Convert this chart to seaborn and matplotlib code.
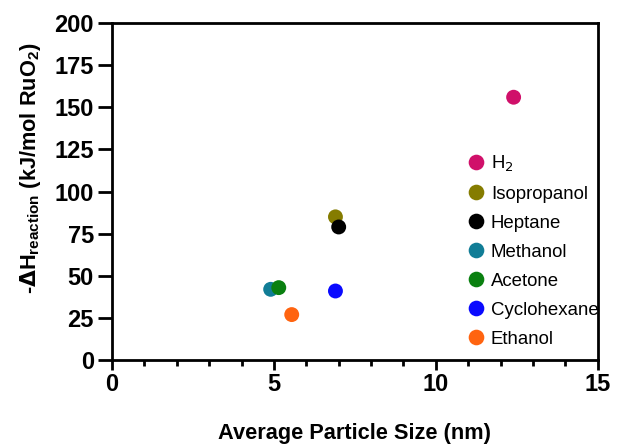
import matplotlib
matplotlib.use("Agg")
import matplotlib.pyplot as plt
from matplotlib.ticker import MultipleLocator
import seaborn as sns
import pandas as pd

# Particle size (nm) and reaction enthalpy (kJ/mol RuO2) per reductant
reductants = ["H$_2$", "Isopropanol", "Heptane", "Methanol", "Acetone", "Cyclohexane", "Ethanol"]
particle_size = [12.4, 6.9, 7.0, 4.9, 5.15, 6.9, 5.55]
delta_h = [156, 85, 79, 42, 43, 41, 27]
colors = ["#d0106a", "#857c00", "#000000", "#117d96", "#0a8010", "#0a0aff", "#ff6410"]

df = pd.DataFrame({"reductant": reductants, "size": particle_size, "dh": delta_h})

sns.set_theme(style="ticks")
plt.rcParams["font.family"] = ["Liberation Sans", "DejaVu Sans"]
plt.rcParams["text.color"] = "black"
plt.rcParams["axes.labelcolor"] = "black"
plt.rcParams["xtick.color"] = "black"
plt.rcParams["ytick.color"] = "black"

fig = plt.figure(figsize=(6.36, 4.44), dpi=100)
ax = fig.add_axes([0.176, 0.189, 0.764, 0.759])

sns.scatterplot(data=df, x="size", y="dh", hue="reductant", palette=colors,
                s=115, edgecolor="none", ax=ax, zorder=3)

ax.set_xlim(0, 15)
ax.set_ylim(0, 200)
ax.xaxis.set_major_locator(MultipleLocator(5))
ax.xaxis.set_minor_locator(MultipleLocator(1))
ax.yaxis.set_major_locator(MultipleLocator(25))

for s in ax.spines.values():
    s.set_linewidth(2.0)
    s.set_color("black")
ax.tick_params(axis="y", which="major", width=2.0, length=10, labelsize=17, pad=3)
ax.tick_params(axis="x", which="major", width=2.0, length=7.5, labelsize=17, pad=2)
ax.tick_params(axis="x", which="minor", width=2.0, length=4)
for lab in ax.get_xticklabels() + ax.get_yticklabels():
    lab.set_fontweight("bold")

ax.set_xlabel("Average Particle Size (nm)", fontsize=15.7, fontweight="bold", va="top")
ax.xaxis.set_label_coords(0.5, -0.186)
ax.set_ylabel(r"-$\mathbf{\Delta}$H$_{\mathregular{reaction}}$ (kJ/mol RuO$_{\mathregular{2}}$)",
              fontsize=15.7, fontweight="bold")
ax.yaxis.set_label_coords(-0.142, 0.57)

leg = ax.legend(loc="center left", bbox_to_anchor=(0.73, 0.325), frameon=False,
                fontsize=13.4, handlelength=1.0, handletextpad=0.3, labelspacing=0.64,
                borderaxespad=0, borderpad=0, markerscale=1.05)
leg.set_title(None)

fig.savefig("out.png", dpi=100)
